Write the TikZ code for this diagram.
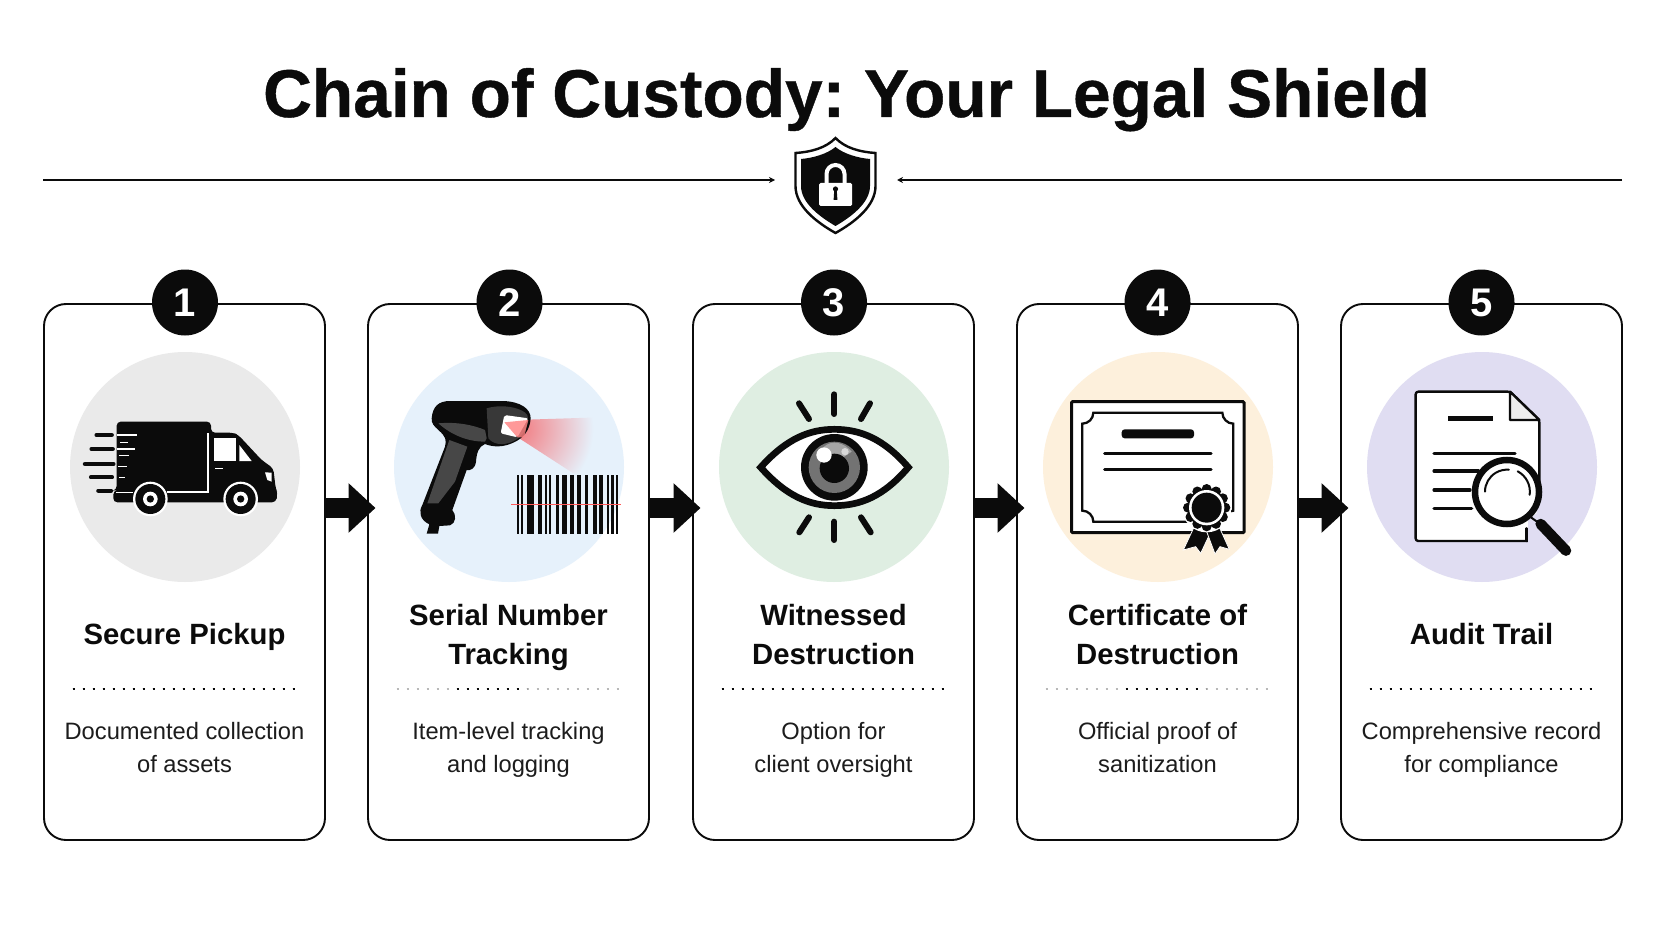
\documentclass[tikz,border=0pt]{standalone}
\usepackage{fontspec}
\setmainfont{Liberation Sans}
\usetikzlibrary{arrows.meta,calc}
\definecolor{ink}{HTML}{0B0B0B}
\definecolor{textc}{HTML}{1C1C1C}
\definecolor{cgrey}{HTML}{EAEAEA}
\definecolor{cblue}{HTML}{E6F1FB}
\definecolor{cgreen}{HTML}{DFEEE2}
\definecolor{corange}{HTML}{FDF0DC}
\definecolor{cpurple}{HTML}{E0DDF2}
\tikzset{
  x=1pt,y=-1pt,
  cardbox/.style={draw=ink,line width=1.9pt,rounded corners=22pt,minimum width=281pt,minimum height=536pt,inner sep=0pt,outer sep=0pt,fill=white},
  iconback/.style={circle,minimum size=230pt,inner sep=0pt,outer sep=0pt},
  badge/.style={circle,fill=ink,text=white,minimum size=66pt,inner sep=0pt,outer sep=0pt,font=\fontsize{40}{40}\selectfont\bfseries},
  steptitle/.style={anchor=base,align=center,inner sep=0pt,text=ink,font=\fontsize{29.3}{38.5}\selectfont\bfseries},
  stepdesc/.style={anchor=base,align=center,inner sep=0pt,text=textc,font=\fontsize{23.7}{32.5}\selectfont},
  dotrule/.style={line width=2pt,dash pattern=on 2pt off 8pt},
  blockarrow/.style={draw=ink,line width=20pt,-{Triangle[length=27pt,width=48pt,fill=ink]}},
  dividerline/.style={draw=ink,line width=1.7pt,-{Stealth[length=6pt,width=6pt,fill=ink]}},
  zoomed/.style={x=0.33333pt,y=-0.33333pt},
}
\begin{document}
\frenchspacing
\begin{tikzpicture}
\useasboundingbox (0,0) rectangle (1672,941);
\fill[white] (0,0) rectangle (1672,941);
% title
\node[anchor=base,inner sep=0pt,text=ink,font=\fontsize{67.6}{68}\selectfont\bfseries\addfontfeature{FakeBold=0.6}] (title) at (846.5,117) {Chain of Custody: Your Legal Shield};
% divider
\coordinate (dlA) at (43,180);
\coordinate (drA) at (1622,180);
\node[minimum width=81pt,minimum height=96pt,inner sep=0pt] (shieldn) at (835.5,186) {};
\coordinate (dlB) at (775,180);
\coordinate (drB) at (897,180);
\draw[dividerline] (dlA) -- (dlB);
\draw[dividerline] (drA) -- (drB);
% shield
\filldraw[fill=white,draw=ink,line width=2.4pt,line join=miter]
  (835.5,138) .. controls (845,148) and (860,152) .. (875.5,153) -- (875.5,186)
  .. controls (875.5,206) and (855,222) .. (835.5,233)
  .. controls (816,222) and (795.5,206) .. (795.5,186) -- (795.5,153)
  .. controls (811,152) and (826,148) .. (835.5,138) -- cycle;
\fill[ink]
  (835.5,147) .. controls (844,154) and (858,158) .. (870,159) -- (870,186)
  .. controls (870,203) and (851,217) .. (835.5,226)
  .. controls (820,217) and (801,203) .. (801,186) -- (801,159)
  .. controls (813,158) and (827,154) .. (835.5,147) -- cycle;
\draw[white,line width=4pt] (826.5,186) -- (826.5,174) arc[start angle=180,end angle=360,radius=9] -- (844.5,186);
\fill[white,rounded corners=1.5pt] (819,183) rectangle (852,206);
\fill[ink] (835.5,189) circle[radius=2.6];
\fill[ink] (834.3,189) -- (836.7,189) -- (837.4,200) -- (833.6,200) -- cycle;
% cards
\foreach \n/\cx/\ccol/\lab/\desc/\ty/\dbase/\ma/\mb in {
  1/184.5/cgrey/{Secure Pickup}/{Documented collection\\of assets}/644/ink/-112/112,
  2/508.5/cblue/{Serial Number\\Tracking}/{Item-level tracking\\and logging}/664/black!28/-52/18,
  3/833.5/cgreen/{Witnessed\\Destruction}/{Option for\\client oversight}/664/ink/-112/112,
  4/1157.5/corange/{Certificate of\\Destruction}/{Official proof of\\sanitization}/664/black!28/-32/48,
  5/1481.5/cpurple/{Audit Trail}/{Comprehensive record\\for compliance}/644/ink/-112/112}{
  \node[cardbox] (card\n) at (\cx,572) {};
  \node[iconback,fill=\ccol] (icon\n) at ($(\cx,467)+(0.5,0)$) {};
  \node[steptitle] (lab\n) at (\cx,\ty) {\lab};
  \draw[dotrule,draw=\dbase] ($(\cx,689)+(-112,0)$) -- ($(\cx,689)+(112,0)$);
  \draw[dotrule,draw=ink] ($(\cx,689)+(\ma,0)$) -- ($(\cx,689)+(\mb,0)$);
  \node[stepdesc] (desc\n) at (\cx,772) {\desc};
}
% truck
\begin{scope}[shift={(30,280)},zoomed]
  \foreach \yy/\xa/\xb/\w in {465/200/245/4.5,507/185/248/4.5,552/165/250/4.5,592/183/246/4.2,632/205/243/4.2}
    \draw[ink,line width=\w pt,line cap=round] (\xa,\yy) -- (\xb,\yy);
  \fill[ink,rounded corners=4pt] (260,425) -- (543,425) -- (543,458) -- (610,458) -- (625,465) -- (695,540) -- (730,565) -- (737,625) -- (743,640) -- (738,667) -- (250,667) -- (250,632) -- (260,630) -- cycle;
  \draw[white,line width=1.8pt] (410,637) -- (535,637) -- (535,460);
  \fill[white] (553,475) rectangle (617,543);
  \fill[white] (628,495) -- (665,543) -- (628,543) -- cycle;
  \draw[white,line width=1.2pt] (555,565) -- (580,565);
  \fill[white] (705,577) -- (725,578) -- (725,605) -- (712,600) -- cycle;
  \foreach \yy/\xa/\xb/\w in {465/260/320/1.6,488/270/293/0.9,507/260/315/1.6,527/268/296/1,560/265/292/1.1,592/267/285/1.6,636/258/308/1}
    \draw[white,line width=\w pt] (\xa,\yy) -- (\xb,\yy);
  \foreach \wx in {361,632}{
    \fill[white] (\wx,657) circle[radius=52];
    \fill[ink] (\wx,657) circle[radius=45];
    \fill[white] (\wx,657) circle[radius=22];
    \fill[ink] (\wx,657) circle[radius=11];
  }
\end{scope}
% scanner
\begin{scope}[shift={(370,340)},zoomed]
  \begin{scope}
    \clip (440,240) -- (690,232) -- (690,400) -- (610,400) -- (440,290) -- cycle;
    \shade[inner color=red!50!cblue,outer color=cblue] (440,265) circle[radius=230];
  \end{scope}
  \fill[ink] (185,235) .. controls (188,200) and (205,183) .. (240,183) -- (400,183)
    .. controls (450,185) and (482,205) .. (482,235) .. controls (480,270) and (460,295) .. (430,308)
    .. controls (400,322) and (370,322) .. (345,312) .. controls (325,320) and (320,340) .. (318,365)
    .. controls (315,388) and (300,392) .. (290,390) -- (247,510) .. controls (260,525) and (258,550) .. (240,556)
    -- (208,558) -- (204,581) -- (170,581) -- (178,553) .. controls (150,540) and (145,515) .. (157,495)
    -- (225,320) .. controls (230,300) and (228,290) .. (205,270) .. controls (192,258) and (184,250) .. (185,235) -- cycle;
  \fill[black!72] (205,250) .. controls (260,245) and (310,255) .. (345,270) -- (350,295) -- (345,305) .. controls (300,305) and (250,290) .. (205,250) -- cycle;
  \fill[black!72] (238,300) -- (292,320) -- (255,425) -- (205,490) -- (172,490) -- cycle;
  \fill[black!78] (350,205) .. controls (400,190) and (460,205) .. (472,225) .. controls (480,250) and (462,285) .. (440,298) .. controls (415,315) and (375,320) .. (355,295) -- cycle;
  \fill[white,rounded corners=2pt] (403,225) -- (475,235) -- (442,292) -- (392,280) -- cycle;
  \fill[red!50,opacity=.8] (403,247) -- (475,240) -- (462,292) -- (442,292) -- cycle;
  \foreach \ba/\bb in {440/447,452/460,470/493,503/515,524/530,537/544,557/568,577/590,600/613,622/634,645/653,668/680,688/700,710/716,724/732,737/743}
    \fill[ink] (\ba,405) rectangle (\bb,582);
  \draw[red!65!white,line width=1pt] (423,493) -- (752,493);
\end{scope}
% eye
\begin{scope}[shift={(700,340)},zoomed]
  \foreach \xa/\ya/\xb/\yb in {403/163/403/222,297/190/327/237,510/190/483/237,327/532/298/577,403/545/403/600,483/532/512/577}
    \draw[ink,line width=6pt,line cap=round] (\xa,\ya) -- (\xb,\yb);
  \filldraw[fill=white,draw=ink,line width=6.7pt,line join=miter]
    (182,382) .. controls (260,295) and (330,268) .. (403,268) .. controls (480,268) and (550,295) .. (625,382)
    .. controls (550,470) and (480,497) .. (403,497) .. controls (330,497) and (260,470) .. (182,382) -- cycle;
  \fill[ink] (403,382) circle[radius=100];
  \fill[black!55] (403,382) circle[radius=77];
  \fill[black!35] (372,320) .. controls (395,300) and (430,305) .. (455,335) -- (403,370) -- cycle;
  \fill[ink] (403,385) circle[radius=44];
  \fill[white] (372,345) circle[radius=23];
  \fill[white!85!black] (435,335) circle[radius=11];
\end{scope}
% certificate
\begin{scope}[shift={(1030,340)},zoomed]
  \filldraw[fill=white,draw=ink,line width=3pt,rounded corners=1pt] (125,185) rectangle (642,578);
  \draw[ink,line width=2.3pt]
    (190,218) -- (577,218) .. controls (577,236) and (592,251) .. (610,251)
    -- (610,512) .. controls (592,512) and (577,527) .. (577,545)
    -- (190,545) .. controls (190,527) and (175,512) .. (157,512)
    -- (157,251) .. controls (175,251) and (190,236) .. (190,218) -- cycle;
  \fill[ink,rounded corners=3pt] (275,268) rectangle (492,295);
  \draw[ink,line width=3.2pt,line cap=round] (224,340) -- (543,340);
  \draw[ink,line width=3.2pt,line cap=round] (224,388) -- (543,388);
  \filldraw[ink,draw=white,line width=.8pt,line join=miter] (495,555) -- (460,630) -- (497,620) -- (512,640) -- (545,570) -- cycle;
  \filldraw[ink,draw=white,line width=.8pt,line join=miter] (530,575) -- (555,642) -- (570,620) -- (598,628) -- (565,555) -- cycle;
  \fill[white] (530,503) circle[radius=74];
  \foreach \ang in {0,30,...,330}
    \fill[ink] (530,503) ++(\ang:56) circle[radius=15];
  \fill[ink] (530,503) circle[radius=58];
  \fill[white] (530,503) circle[radius=53];
  \fill[ink] (530,503) circle[radius=45];
\end{scope}
% document and magnifier
\begin{scope}[shift={(1350,340)},zoomed]
  \filldraw[fill=white,draw=ink,line width=2.4pt,line join=round,rounded corners=2.5pt]
    (197,155) -- (480,155) -- (568,240) -- (568,603) -- (197,603) -- cycle;
  \fill[cpurple] (560,470) -- (576,470) -- (576,610) -- (534,610) -- (534,540) -- (560,520) -- cycle;
  \draw[ink,line width=2.4pt,line cap=round] (530,565) -- (530,603);
  \filldraw[fill=black!7,draw=ink,line width=2.4pt,line join=round] (480,155) -- (480,240) -- (568,240) -- cycle;
  \draw[ink,line width=5.5pt] (295,236) -- (428,236);
  \foreach \yy/\xb in {340/495,393/385,450/360,505/365}
    \draw[ink,line width=3.2pt,line cap=round] (252,\yy) -- (\xb,\yy);
  \draw[ink,line width=2pt] (540,530) -- (572,553);
  \draw[ink,line width=10.5pt,line cap=round] (572,552) -- (648,632);
  \filldraw[fill=white,draw=ink,line width=6.5pt] (471,456) circle[radius=96];
  \draw[ink,line width=2pt,line cap=round] (405,455) arc[start angle=180,end angle=275,radius=66];
  \draw[ink,line width=2pt,line cap=round] (503,394) arc[start angle=298,end angle=368,radius=69];
\end{scope}
% arrows
\foreach \a/\b in {1/2,2/3,3/4,4/5}
  \draw[blockarrow] ([yshift=64pt]card\a.east) -- ([yshift=64pt,xshift=7.5pt]card\b.west);
% badges
\foreach \n/\cx in {1/185,2/509.5,3/834,4/1157.5,5/1481.5}
  \node[badge] (badge\n) at (\cx,302.5) {\n};
\end{tikzpicture}
\end{document}
